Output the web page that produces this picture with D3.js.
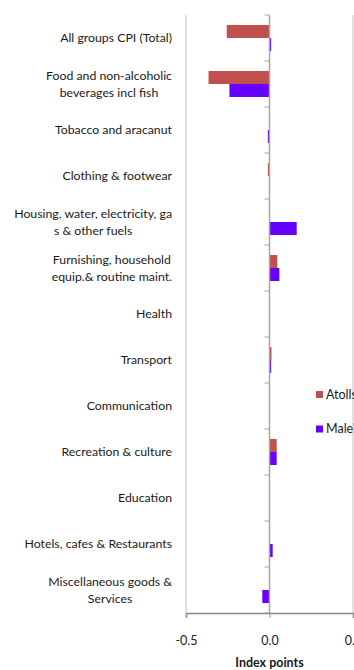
<!DOCTYPE html>
<html>
<head>
<meta charset="utf-8">
<script src="https://cdn.jsdelivr.net/npm/d3@7"></script>
<style>
  body { margin: 0; background: #fff; overflow: hidden; }
  text { font-family: Lato, "Open Sans", sans-serif; fill: #1a1a1a; }
</style>
</head>
<body>
<div id="chart"></div>
<script>
// Data
var categories = [
    ["All groups CPI (Total)"],
    ["Food and  non-alcoholic", "beverages incl fish"],
    ["Tobacco and aracanut"],
    ["Clothing & footwear"],
    ["Housing, water, electricity, ga", "s & other fuels"],
    ["Furnishing, household", "equip.& routine maint."],
    ["Health"],
    ["Transport"],
    ["Communication"],
    ["Recreation & culture"],
    ["Education"],
    ["Hotels, cafes & Restaurants"],
    ["Miscellaneous goods &", "Services"]
];
var seriesNames = ["Atolls", "Male'"];
var atolls = [-0.256, -0.365, 0, -0.01, 0, 0.047, 0, 0.012, 0, 0.043, 0, 0, 0];
var male = [0.01, -0.24, -0.01, 0, 0.163, 0.059, 0, 0.01, 0, 0.043, 0, 0.019, -0.043];
var xTicks = [-0.5, 0, 0.5];
var colors = ["#C0504D", "#6600FF"];

var svgWidth = 354, svgHeight = 670;

var svg = d3.select("#chart")
    .append("svg")
    .attr("width", svgWidth)
    .attr("height", svgHeight);

var keys = categories.map((c, i) => "c" + i);

var x = d3.scaleLinear()
    .domain([-0.5, 0.5])
    .range([186, 353]);

var y = d3.scaleBand()
    .domain(keys)
    .range([15, 613])
    .paddingInner(0.435)
    .paddingOuter(0.2175);

var ySub = d3.scaleBand()
    .domain(seriesNames)
    .range([0, y.bandwidth()]);

// vertical gridlines
svg.append("g")
    .selectAll("line")
    .data(xTicks.filter(d => d !== 0))
    .enter()
    .append("line")
    .attr("x1", d => x(d))
    .attr("x2", d => x(d))
    .attr("y1", 15)
    .attr("y2", 613)
    .attr("stroke", "#c4c4c4")
    .attr("stroke-width", 1);

// bars
var rows = keys.map((k, i) => ({ key: k, values: [atolls[i], male[i]] }));

var groups = svg.append("g")
    .selectAll("g")
    .data(rows)
    .enter()
    .append("g")
    .attr("transform", d => `translate(0, ${y(d.key)})`);

groups.selectAll("rect")
    .data(d => d.values.map((v, j) => ({ name: seriesNames[j], v: v, j: j })))
    .enter()
    .append("rect")
    .attr("x", d => x(Math.min(0, d.v)))
    .attr("y", d => ySub(d.name))
    .attr("width", d => Math.abs(x(d.v) - x(0)))
    .attr("height", ySub.bandwidth())
    .attr("fill", d => colors[d.j]);

// y axis line at zero with category ticks
var half = (y.step() - y.bandwidth()) / 2;
var boundaries = keys.map(k => y(k) - half).concat([613]);

svg.append("g")
    .selectAll("line")
    .data(boundaries)
    .enter()
    .append("line")
    .attr("x1", x(0) - 5)
    .attr("x2", x(0))
    .attr("y1", d => d)
    .attr("y2", d => d)
    .attr("stroke", "#a6a6a6")
    .attr("stroke-width", 1);

svg.append("line")
    .attr("x1", x(0))
    .attr("x2", x(0))
    .attr("y1", 15)
    .attr("y2", 613)
    .attr("stroke", "#a6a6a6")
    .attr("stroke-width", 1.5);

// x axis
var xAxis = svg.append("g")
    .attr("transform", "translate(0, 613)")
    .call(d3.axisBottom(x).tickValues(xTicks).tickSize(5).tickPadding(18)
        .tickFormat(d => d.toFixed(1)));

xAxis.select(".domain").attr("stroke", "#8c8c8c").attr("stroke-width", 1.5);
xAxis.selectAll(".tick line").attr("stroke", "#8c8c8c");
xAxis.selectAll(".tick text")
    .style("font-family", "Lato, sans-serif")
    .style("font-size", "12.5px")
    .attr("fill", "#1a1a1a");

svg.append("text")
    .attr("x", x(0))
    .attr("y", 667)
    .attr("text-anchor", "middle")
    .style("font-size", "12.5px")
    .style("font-weight", "bold")
    .text("Index points");

// category labels, block right-aligned, lines centred
var labelRight = 172;
var lineH = 17.5;
categories.forEach(function(lines, i) {
    var cy = y(keys[i]) + y.bandwidth() / 2;
    var t = svg.append("text")
        .attr("text-anchor", "middle")
        .style("font-size", "12.3px");
    var spans = lines.map(function(line, j) {
        return t.append("tspan")
            .attr("y", cy + (j - (lines.length - 1) / 2) * lineH)
            .attr("dy", "0.35em")
            .text(line);
    });
    var maxW = d3.max(spans, s => s.node().getComputedTextLength());
    spans.forEach(s => s.attr("x", labelRight - maxW / 2));
});

// legend
var legend = svg.append("g")
    .selectAll("g")
    .data(seriesNames)
    .enter()
    .append("g")
    .attr("transform", (d, i) => `translate(316, ${391 + i * 34.5})`);

legend.append("rect")
    .attr("width", 7)
    .attr("height", 7)
    .attr("fill", (d, i) => colors[i]);

legend.append("text")
    .attr("x", 10)
    .attr("y", 3.5)
    .attr("dy", "0.35em")
    .style("font-size", "12.5px")
    .text(d => d);
</script>
</body>
</html>
